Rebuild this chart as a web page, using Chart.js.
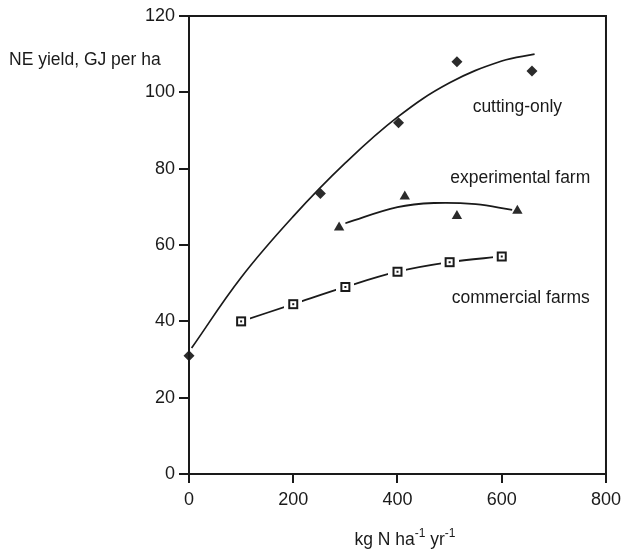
<!DOCTYPE html>
<html>
<head>
<meta charset="utf-8">
<script src="https://cdn.jsdelivr.net/npm/chart.js@4/dist/chart.umd.min.js"></script>
<style>
  body { margin: 0; background: #fff; }
  #wrap { width: 627px; height: 552px; }
</style>
</head>
<body>
<div id="wrap"><canvas id="myChart" width="627" height="552"></canvas></div>
<script>
// measured points (kg N / ha / yr , GJ / ha)
const cutX = [0, 252, 402, 514, 658];
const cutY = [31, 73.5, 92, 108, 105.6];
const cutFitX = [5, 100, 200, 300, 400, 500, 600, 663];
const cutFitY = [33, 51.5, 67.5, 81.5, 93.5, 102.5, 108.2, 110];

const expX = [288, 414, 514, 630];
const expY = [64.6, 72.7, 67.6, 69];
const expFitX = [300, 400, 470, 550, 620];
const expFitY = [65.7, 69.9, 71, 70.7, 69.2];

const comX = [100, 200, 300, 400, 500, 600];
const comY = [40, 44.5, 49, 53, 55.5, 57];

const xTicks = [0, 200, 400, 600, 800];
const yTicks = [0, 20, 40, 60, 80, 100, 120];

const seriesNames = ['cutting-only', 'experimental farm', 'commercial farms'];

const FONT = '"Liberation Sans", Arial, Helvetica, sans-serif';
const INK = '#1a1a1a';

const toPts = (xs, ys) => xs.map((x, i) => ({ x: x, y: ys[i] }));

// hollow square marker with a white halo so the line breaks around it
const sq = document.createElement('canvas');
sq.width = 18; sq.height = 18;
const sc = sq.getContext('2d');
sc.fillStyle = '#fff'; sc.fillRect(0, 0, 18, 18);
sc.fillStyle = INK; sc.fillRect(4, 4, 10, 10);
sc.fillStyle = '#fff'; sc.fillRect(6, 6, 6, 6);
sc.fillStyle = INK; sc.fillRect(8, 8, 2, 2);

const decor = {
  id: 'decor',
  afterDraw(chart) {
    const ctx = chart.ctx;
    const a = chart.chartArea;
    const xs = chart.scales.x, ys = chart.scales.y;
    ctx.save();
    // frame
    ctx.strokeStyle = INK;
    ctx.lineWidth = 2;
    ctx.strokeRect(a.left, a.top, a.right - a.left, a.bottom - a.top);

    ctx.fillStyle = INK;
    ctx.textBaseline = 'middle';
    ctx.font = '17.5px ' + FONT;

    // curve labels (data coords)
    const lab = [[630, 96.2], [635.5, 77.6], [636.5, 46.1]];
    ctx.textAlign = 'center';
    seriesNames.forEach((t, i) => {
      ctx.fillText(t, xs.getPixelForValue(lab[i][0]), ys.getPixelForValue(lab[i][1]));
    });

    // y title, horizontal at top left
    ctx.textAlign = 'left';
    ctx.fillText('NE yield, GJ per ha', 9, 60);

    // x title with superscripts
    const parts = [['kg N ha', 0], ['-1', 1], [' yr', 0], ['-1', 1]];
    const big = '17.5px ' + FONT, small = '12px ' + FONT;
    let w = 0;
    parts.forEach(p => { ctx.font = p[1] ? small : big; w += ctx.measureText(p[0]).width; });
    let x = 405 - w / 2;
    parts.forEach(p => {
      ctx.font = p[1] ? small : big;
      ctx.fillText(p[0], x, p[1] ? 534 : 540);
      x += ctx.measureText(p[0]).width;
    });
    ctx.restore();
  }
};

new Chart(document.getElementById('myChart'), {
  type: 'line',
  data: {
    datasets: [
      { label: seriesNames[0], data: toPts(cutX, cutY), showLine: false, clip: false,
        pointStyle: 'rectRot', pointRadius: 5.5, pointBackgroundColor: '#2b2b2b', pointBorderWidth: 0 },
      { label: seriesNames[1], data: toPts(expX, expY), showLine: false,
        pointStyle: 'triangle', pointRadius: 6, pointBackgroundColor: '#2b2b2b', pointBorderWidth: 0 },
      { label: seriesNames[2], data: toPts(comX, comY), borderColor: INK, borderWidth: 1.8,
        tension: 0.35, pointStyle: sq, pointRadius: 9 },
      { label: 'fit1', data: toPts(cutFitX, cutFitY), borderColor: INK, borderWidth: 1.7,
        tension: 0.4, pointRadius: 0 },
      { label: 'fit2', data: toPts(expFitX, expFitY), borderColor: INK, borderWidth: 1.8,
        tension: 0.4, pointRadius: 0 }
    ]
  },
  options: {
    responsive: false,
    animation: false,
    layout: { padding: { left: 0, right: 17, top: 16, bottom: 0 } },
    plugins: { legend: { display: false }, tooltip: { enabled: false } },
    scales: {
      x: {
        type: 'linear', min: 0, max: 800,
        afterBuildTicks: s => { s.ticks = xTicks.map(v => ({ value: v })); },
        afterFit: s => { s.height = 78; },
        grid: { display: true, drawOnChartArea: false, drawTicks: true, tickLength: 9, color: INK, lineWidth: 2 },
        border: { display: true, color: INK, width: 2 },
        ticks: { color: INK, font: { family: FONT, size: 18 }, padding: 6, maxRotation: 0 }
      },
      y: {
        min: 0, max: 120,
        afterBuildTicks: s => { s.ticks = yTicks.map(v => ({ value: v })); },
        afterFit: s => { s.width = 189; },
        grid: { display: true, drawOnChartArea: false, drawTicks: true, tickLength: 10, color: INK, lineWidth: 2 },
        border: { display: true, color: INK, width: 2 },
        ticks: { color: INK, font: { family: FONT, size: 18 }, padding: 4 }
      }
    }
  },
  plugins: [decor]
});
</script>
</body>
</html>
